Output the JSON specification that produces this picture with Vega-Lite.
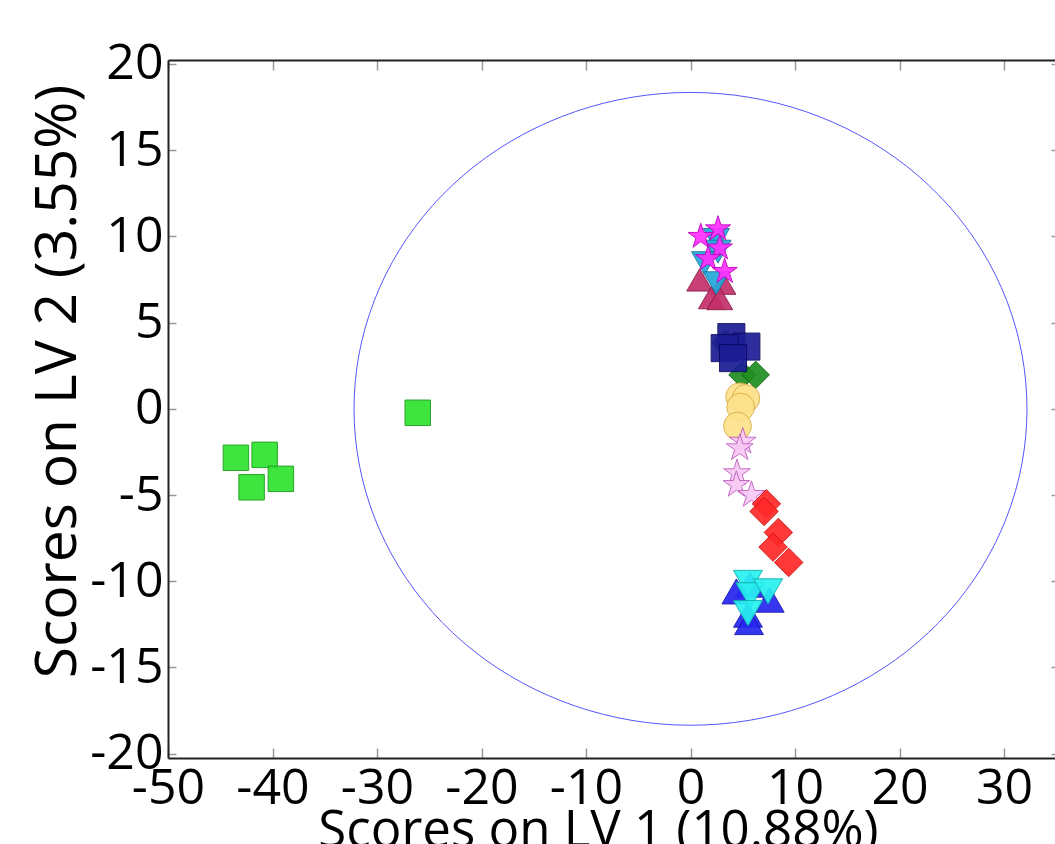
{
  "$schema": "https://vega.github.io/schema/vega-lite/v6.json",
  "autosize": "none",
  "padding": {"left": 168, "top": 60, "right": 0, "bottom": 86},
  "width": 887,
  "height": 698,
  "background": "white",
  "config": {
    "view": {"stroke": null},
    "font": "Open Sans",
    "axis": {
      "labelFont": "Open Sans",
      "titleFont": "Open Sans",
      "labelFontSize": 50,
      "titleFontSize": 50,
      "labelColor": "black",
      "titleColor": "black",
      "titleFontWeight": "normal",
      "grid": false,
      "domainColor": "#222222",
      "domainWidth": 2,
      "tickColor": "#999999",
      "tickWidth": 1.5,
      "labelFlush": false,
      "labelOverlap": false
    }
  },
  "resolve": {"axis": {"x": "independent", "y": "independent"}},
  "datasets": {
    "ell": [
      {"i": 0, "x": 32.2, "y": 0},
      {"i": 1, "x": 31.71, "y": 3.19},
      {"i": 2, "x": 30.26, "y": 6.28},
      {"i": 3, "x": 27.89, "y": 9.18},
      {"i": 4, "x": 24.67, "y": 11.8},
      {"i": 5, "x": 20.7, "y": 14.06},
      {"i": 6, "x": 16.1, "y": 15.89},
      {"i": 7, "x": 11.01, "y": 17.24},
      {"i": 8, "x": 5.59, "y": 18.07},
      {"i": 9, "x": 0, "y": 18.35},
      {"i": 10, "x": -5.59, "y": 18.07},
      {"i": 11, "x": -11.01, "y": 17.24},
      {"i": 12, "x": -16.1, "y": 15.89},
      {"i": 13, "x": -20.7, "y": 14.06},
      {"i": 14, "x": -24.67, "y": 11.8},
      {"i": 15, "x": -27.89, "y": 9.18},
      {"i": 16, "x": -30.26, "y": 6.28},
      {"i": 17, "x": -31.71, "y": 3.19},
      {"i": 18, "x": -32.2, "y": 0},
      {"i": 19, "x": -31.71, "y": -3.19},
      {"i": 20, "x": -30.26, "y": -6.28},
      {"i": 21, "x": -27.89, "y": -9.18},
      {"i": 22, "x": -24.67, "y": -11.8},
      {"i": 23, "x": -20.7, "y": -14.06},
      {"i": 24, "x": -16.1, "y": -15.89},
      {"i": 25, "x": -11.01, "y": -17.24},
      {"i": 26, "x": -5.59, "y": -18.07},
      {"i": 27, "x": 0, "y": -18.35},
      {"i": 28, "x": 5.59, "y": -18.07},
      {"i": 29, "x": 11.01, "y": -17.24},
      {"i": 30, "x": 16.1, "y": -15.89},
      {"i": 31, "x": 20.7, "y": -14.06},
      {"i": 32, "x": 24.67, "y": -11.8},
      {"i": 33, "x": 27.89, "y": -9.18},
      {"i": 34, "x": 30.26, "y": -6.28},
      {"i": 35, "x": 31.71, "y": -3.19}
    ],
    "pts": [
      {"g": "G1", "x": -26.1, "y": -0.23},
      {"g": "G1", "x": -43.5, "y": -2.84},
      {"g": "G1", "x": -40.75, "y": -2.67},
      {"g": "G1", "x": -39.2, "y": -4.06},
      {"g": "G1", "x": -42.0, "y": -4.55},
      {"g": "G2", "x": 0.88, "y": 7.48},
      {"g": "G2", "x": 3.1, "y": 7.29},
      {"g": "G2", "x": 2.0, "y": 6.45},
      {"g": "G2", "x": 2.8, "y": 6.4},
      {"g": "G3", "x": 2.47, "y": 9.8},
      {"g": "G3", "x": 2.63, "y": 9.12},
      {"g": "G3", "x": 1.36, "y": 8.45},
      {"g": "G3", "x": 2.47, "y": 7.29},
      {"g": "G4", "x": 2.63, "y": 10.43},
      {"g": "G4", "x": 0.98, "y": 9.99},
      {"g": "G4", "x": 2.8, "y": 9.32},
      {"g": "G4", "x": 1.68, "y": 8.7},
      {"g": "G4", "x": 3.27, "y": 7.96},
      {"g": "G6", "x": 3.34, "y": 3.81},
      {"g": "G6", "x": 4.97, "y": 1.97},
      {"g": "G6", "x": 6.24, "y": 1.97},
      {"g": "G5", "x": 3.91, "y": 4.16},
      {"g": "G5", "x": 5.35, "y": 3.61},
      {"g": "G5", "x": 3.27, "y": 3.52},
      {"g": "G5", "x": 4.07, "y": 2.94},
      {"g": "G7", "x": 4.7, "y": 0.7},
      {"g": "G7", "x": 5.3, "y": 0.6},
      {"g": "G7", "x": 4.8, "y": 0.1},
      {"g": "G7", "x": 4.5, "y": -1.0},
      {"g": "G8", "x": 5.0, "y": -1.9},
      {"g": "G8", "x": 4.71, "y": -2.28},
      {"g": "G8", "x": 4.45, "y": -3.73},
      {"g": "G8", "x": 4.39, "y": -4.41},
      {"g": "G8", "x": 5.83, "y": -4.99},
      {"g": "G9", "x": 7.26, "y": -5.51},
      {"g": "G9", "x": 7.04, "y": -5.95},
      {"g": "G9", "x": 8.41, "y": -7.17},
      {"g": "G9", "x": 7.9, "y": -8.02},
      {"g": "G9", "x": 9.4, "y": -8.91},
      {"g": "G10", "x": 5.67, "y": -10.2},
      {"g": "G10", "x": 4.39, "y": -10.59},
      {"g": "G10", "x": 7.58, "y": -11.07},
      {"g": "G10", "x": 5.5, "y": -11.94},
      {"g": "G10", "x": 5.6, "y": -12.37},
      {"g": "G11", "x": 5.5, "y": -10.1},
      {"g": "G11", "x": 5.73, "y": -10.82},
      {"g": "G11", "x": 7.42, "y": -10.59},
      {"g": "G11", "x": 5.5, "y": -11.85}
    ]
  },
  "layer": [
    {
      "data": {"name": "ell"},
      "mark": {"type": "line", "interpolate": "cardinal-closed", "color": "#5555ff", "strokeWidth": 1, "clip": true},
      "encoding": {
        "x": {
          "field": "x", "type": "quantitative",
          "scale": {"domain": [-50, 34.88], "nice": false, "zero": false},
          "axis": {
            "orient": "bottom",
            "values": [-50, -40, -30, -20, -10, 0, 10, 20, 30],
            "labelExpr": "replace(datum.label, '−', '-')",
            "tickSize": -10,
            "labelPadding": 15,
            "title": "Scores on LV 1 (10.88%)",
            "titleFontSize": 51,
            "titleX": 430,
            "titleY": 88,
            "titleAnchor": null,
            "titleAlign": "center",
            "titleBaseline": "alphabetic"
          }
        },
        "y": {
          "field": "y", "type": "quantitative",
          "scale": {"domain": [-20.25, 20.23], "nice": false, "zero": false},
          "axis": {
            "orient": "left",
            "values": [-20, -15, -10, -5, 0, 5, 10, 15, 20],
            "labelExpr": "replace(datum.label, '−', '-')",
            "tickSize": -8,
            "labelPadding": 13,
            "title": "Scores on LV 2 (3.55%)",
            "titleFontSize": 57,
            "titleX": -93,
            "titleY": 321,
            "titleAnchor": null,
            "titleAlign": "center",
            "titleBaseline": "alphabetic",
            "titleAngle": -90
          }
        },
        "order": {"field": "i", "type": "quantitative"}
      }
    },
    {
      "mark": {"type": "rule", "color": "#444444", "strokeWidth": 1, "strokeDash": [1, 1]},
      "encoding": {"x": {"datum": 0, "type": "quantitative", "axis": null}}
    },
    {
      "mark": {"type": "rule", "color": "#444444", "strokeWidth": 1, "strokeDash": [1, 1]},
      "encoding": {"y": {"datum": 0, "type": "quantitative", "axis": null}}
    },
    {
      "data": {"name": "pts"},
      "mark": {"type": "point", "filled": true, "opacity": 0.92, "strokeWidth": 1},
      "encoding": {
        "x": {
          "field": "x", "type": "quantitative",
          "axis": {
            "orient": "top",
            "values": [-50, -40, -30, -20, -10, 0, 10, 20, 30],
            "tickSize": -10,
            "labels": false,
            "title": null
          }
        },
        "y": {
          "field": "y", "type": "quantitative",
          "axis": {
            "orient": "right",
            "values": [-20, -15, -10, -5, 0, 5, 10, 15, 20],
            "tickSize": -4,
            "labels": false,
            "domain": false,
            "title": null
          }
        },
        "shape": {
          "field": "g", "type": "nominal", "legend": null,
          "scale": {
            "domain": ["G1", "G2", "G3", "G4", "G5", "G6", "G7", "G8", "G9", "G10", "G11"],
            "range": ["square", "triangle-up", "triangle-down", "M0,-1L0.2245,-0.309L0.951,-0.309L0.363,0.118L0.588,0.809L0,0.382L-0.588,0.809L-0.363,0.118L-0.951,-0.309L-0.2245,-0.309Z", "square", "diamond", "circle", "M0,-1L0.2245,-0.309L0.951,-0.309L0.363,0.118L0.588,0.809L0,0.382L-0.588,0.809L-0.363,0.118L-0.951,-0.309L-0.2245,-0.309Z", "diamond", "triangle-up", "triangle-down"]
          }
        },
        "fill": {
          "field": "g", "type": "nominal", "legend": null,
          "scale": {
            "domain": ["G1", "G2", "G3", "G4", "G5", "G6", "G7", "G8", "G9", "G10", "G11"],
            "range": ["#2ee32e", "#c4306a", "#22a8dc", "#ff2eff", "#1c1c96", "#1f8f1f", "#fde28c", "#f8c8f4", "#ff2828", "#2626f0", "#28f0f0"]
          }
        },
        "stroke": {
          "field": "g", "type": "nominal", "legend": null,
          "scale": {
            "domain": ["G1", "G2", "G3", "G4", "G5", "G6", "G7", "G8", "G9", "G10", "G11"],
            "range": ["#1a9a1a", "#8a1844", "#1478a0", "#c000c0", "#0a0a60", "#0a5a0a", "#d8b04a", "#c060c0", "#d01010", "#1010b0", "#10b0b0"]
          }
        },
        "size": {
          "field": "g", "type": "nominal", "legend": null,
          "scale": {
            "domain": ["G1", "G2", "G3", "G4", "G5", "G6", "G7", "G8", "G9", "G10", "G11"],
            "range": [650, 850, 850, 780, 760, 1000, 700, 720, 1000, 850, 850]
          }
        }
      }
    }
  ]
}
